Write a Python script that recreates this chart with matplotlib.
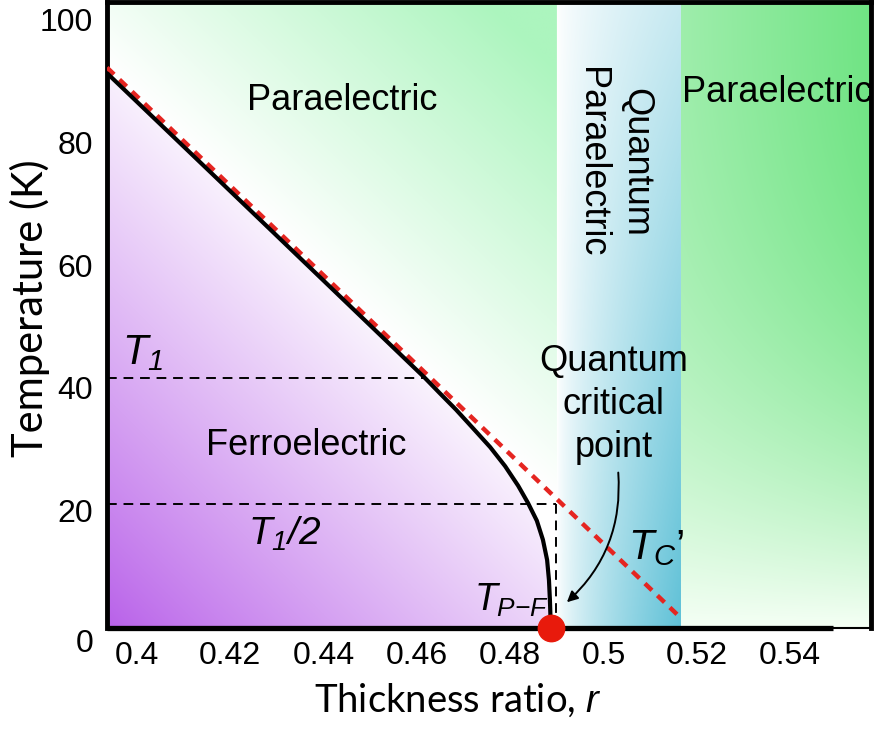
import numpy as np
import matplotlib
matplotlib.use("Agg")
import matplotlib.pyplot as plt
from matplotlib.patches import Polygon, FancyArrowPatch
from matplotlib.transforms import ScaledTranslation

plt.rcParams['font.family'] = ['Liberation Sans', 'DejaVu Sans']
plt.rcParams['mathtext.fontset'] = 'custom'
plt.rcParams['mathtext.it'] = 'Liberation Sans:italic'
plt.rcParams['mathtext.rm'] = 'Liberation Sans:italic'

# --- data ---
# phase boundary T_P-F (black solid)
r_curve = [0.3936, 0.4242, 0.4457, 0.4617, 0.4649, 0.4684, 0.4720, 0.4757, 0.4789,
           0.4817, 0.4838, 0.4857, 0.4870, 0.4879, 0.4883, 0.4885, 0.4887]
T_curve = [90.5, 68.2, 52.5, 40.8, 38.3, 35.6, 32.6, 29.5, 26.4,
           23.2, 20.4, 17.5, 14.4, 11.1, 7.8, 4.6, 0.0]
# classical T_C' (red dashed)
r_tc = [0.3936, 0.5166]
T_tc = [91.4, 1.6]
# reference levels
T1 = 40.8
T1_half = 20.3
r_T1_end = 0.4617
r_half_end = 0.4898
r_qcp = 0.4887
r_zero_line = [0.3936, 0.5492]
# region borders (quantum paraelectric band)
r_q0, r_q1 = 0.4900, 0.5166

xticks = [0.40, 0.42, 0.44, 0.46, 0.48, 0.50, 0.52, 0.54]
xtick_labels = ['0.4', '0.42', '0.44', '0.46', '0.48', '0.5', '0.52', '0.54']
yticks = [0, 20, 40, 60, 80, 100]

xmin, xmax = 0.3936, 0.5573
ymin, ymax = 0.0, 102.1

fig = plt.figure(figsize=(8.76, 7.29), dpi=100)
ax = fig.add_axes([107/876, 101/729, 764/876, 626/729])
ax.set_xlim(xmin, xmax)
ax.set_ylim(ymin, ymax)

# --- background gradients ---
n = 500
gx, gy = np.meshgrid(np.linspace(0, 1, n), np.linspace(0, 1, n))
white = np.array([1.0, 1.0, 1.0])

def blend(c0, c1, t):
    t = np.clip(t, 0, 1)[..., None]
    return c0 * (1 - t) + c1 * t

purple = np.array([184, 96, 233]) / 255
s = np.clip(1.23 * gx + 1.01 * gy, 0, 1) ** 0.9
img_purple = blend(purple, white, s)

green1 = np.array([172, 245, 190]) / 255
d = (2.033 * gx + 1.738 * gy - 1.555) / 1.2
img_green1 = blend(white, green1, d)

full = [xmin, xmax, ymin, ymax]
im1 = ax.imshow(img_purple, extent=full, origin='lower', aspect='auto', zorder=0)
poly_f = Polygon([(xmin, 0)] + list(zip(r_curve, T_curve)), closed=True,
                 transform=ax.transData)
im1.set_clip_path(poly_f)

im2 = ax.imshow(img_green1, extent=full, origin='lower', aspect='auto', zorder=0)
poly_p = Polygon([(xmin, ymax), (r_q0, ymax), (r_q0, 0)] +
                 list(zip(r_curve[::-1], T_curve[::-1])), closed=True,
                 transform=ax.transData)
im2.set_clip_path(poly_p)

bx, by = np.meshgrid(np.linspace(0, 1, 200), np.linspace(0, 1, 400))
blue = np.array([95, 193, 215]) / 255
tq = bx ** 0.7 * (0.35 + 0.65 * (1 - by))
ax.imshow(blend(white, blue, tq), extent=[r_q0, r_q1, ymin, ymax],
          origin='lower', aspect='auto', zorder=0)

green2 = np.array([112, 228, 132]) / 255
white2 = np.array([245, 255, 245]) / 255
tg = (1 - (1 - by) ** 2.5) * (0.65 + 0.35 * bx)
ax.imshow(blend(white2, green2, tg), extent=[r_q1, xmax, ymin, ymax],
          origin='lower', aspect='auto', zorder=0)
ax.set_xlim(xmin, xmax)
ax.set_ylim(ymin, ymax)

# --- lines ---
dash_k = (0, (5, 3.5))
ax.plot([xmin, r_T1_end], [T1, T1], color='black', lw=1.4, ls=dash_k, zorder=2)
ax.plot([xmin, r_half_end], [T1_half, T1_half], color='black', lw=1.4, ls=dash_k, zorder=2)
ax.plot([r_half_end, r_half_end], [T1_half, 0], color='black', lw=1.4, ls=dash_k, zorder=2)

ax.plot(r_tc, T_tc, color='#e52521', lw=3.2, ls=(0, (2.2, 1.7)), zorder=3)
ax.plot(r_curve, T_curve, color='black', lw=3, zorder=4, solid_capstyle='butt',
        solid_joinstyle='round')
ax.plot(r_zero_line, [0, 0], color='black', lw=3.8, zorder=5, clip_on=False,
        solid_capstyle='butt')
ax.plot([r_qcp], [0], 'o', color='#e81a0c', ms=19, zorder=6, clip_on=False)

arrow = FancyArrowPatch((0.5031, 25.8), (0.4917, 3.9), connectionstyle='arc3,rad=-0.25',
                        arrowstyle='-|>', mutation_scale=16, color='black', lw=1.4, zorder=6)
ax.add_patch(arrow)

# --- labels ---
fs = 26
ax.text(0.4439, 86.0, 'Paraelectric', fontsize=fs, ha='center', va='center')
ax.text(0.5372, 87.4, 'Paraelectric', fontsize=fs, ha='center', va='center')
ax.text(0.4362, 29.7, 'Ferroelectric', fontsize=fs, ha='center', va='center')
ax.text(0.5022, 36.5, 'Quantum\ncritical\npoint', fontsize=fs, ha='center', va='center',
        multialignment='center', linespacing=1.3)
ax.text(0.5022, 76.0, 'Quantum\nParaelectric', fontsize=fs, ha='center', va='center',
        rotation=-90, multialignment='center', linespacing=1.35)

ax.text(0.3968, 41.6, r'$T_1$', fontsize=30, ha='left', va='bottom')
ax.text(0.4238, 12.3, r'$T_1/2$', fontsize=28, ha='left', va='bottom')
ax.text(0.4722, 1.4, r'$T_{P{-}F}$', fontsize=27, ha='left', va='bottom', zorder=7)
ax.text(0.5052, 9.8, r'$T_C$’', fontsize=30, ha='left', va='bottom')

# --- axes styling ---
for side in ['left', 'top', 'right']:
    ax.spines[side].set_linewidth(3.5)
ax.spines['bottom'].set_linewidth(1.5)

ax.set_xticks(xticks)
ax.set_xticklabels(xtick_labels)
ax.set_yticks(yticks)
ax.tick_params(length=0, labelsize=23)
ax.tick_params(axis='x', pad=9)
ax.tick_params(axis='y', pad=10)

ax.set_xlabel('Thickness ratio, $r$', fontsize=27.5, family=['Lato', 'DejaVu Sans'])
ax.set_ylabel('Temperature (K)', fontsize=30, family=['Lato', 'DejaVu Sans'])
ax.xaxis.set_label_coords(0.4594, -0.086)
ax.yaxis.set_label_coords(-0.075, 0.511)

# y tick labels sit a little lower in the original
fig.canvas.draw()
for lab in ax.get_yticklabels():
    dy = -12 if lab.get_text() == '0' else -5
    lab.set_transform(lab.get_transform() + ScaledTranslation(0, dy / 100, fig.dpi_scale_trans))

fig.savefig('out.png', dpi=100)
